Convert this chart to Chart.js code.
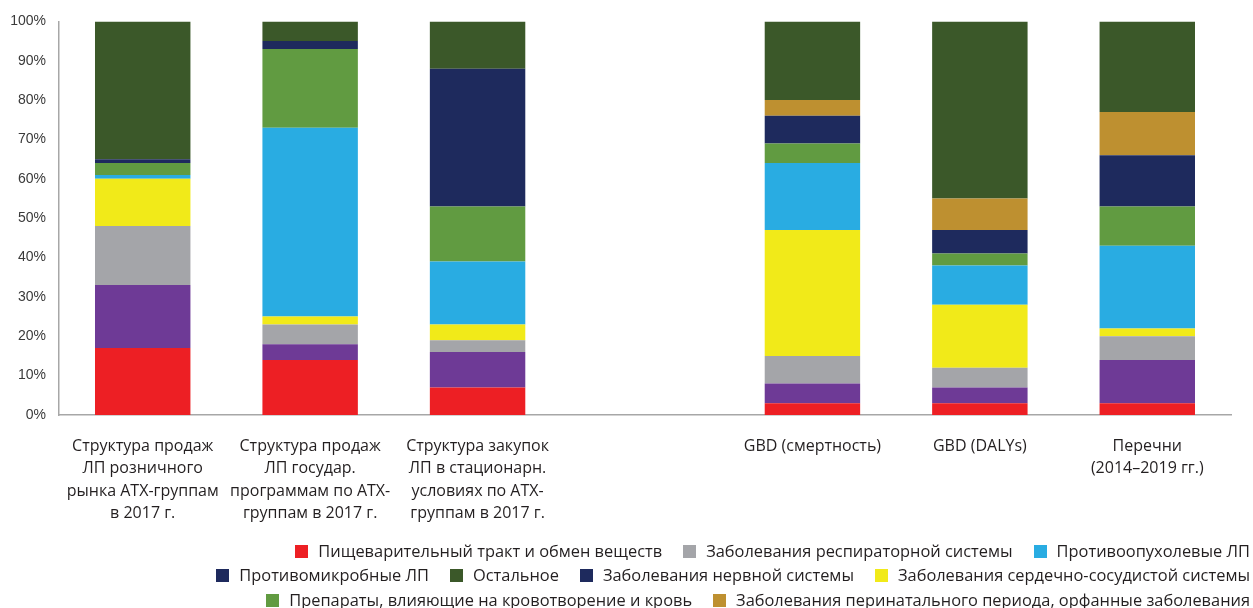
<!DOCTYPE html>
<html lang="ru">
<head>
<meta charset="utf-8">
<title>Структура продаж и закупок ЛП по терапевтическим группам</title>
<script src="https://cdn.jsdelivr.net/npm/chart.js@4.4.1/dist/chart.umd.min.js"></script>
<style>
  html, body { margin: 0; padding: 0; background: #fff; }
  #wrap { position: relative; width: 1253px; height: 608px; }
</style>
</head>
<body>
<div id="wrap"><canvas id="chart"></canvas></div>
<script>
// Categories (the empty one separates the sales/procurement bars from the burden-of-disease bars)
const categories = [
  ['Структура продаж', 'ЛП розничного', 'рынка АТХ-группам', 'в 2017 г.'],
  ['Структура продаж', 'ЛП государ.', 'программам по АТХ-', 'группам в 2017 г.'],
  ['Структура закупок', 'ЛП в стационарн.', 'условиях по АТХ-', 'группам в 2017 г.'],
  '',
  'GBD (смертность)',
  'GBD (DALYs)',
  ['Перечни', '(2014–2019 гг.)']
];

// Shares, %, listed bottom-to-top in the stack
const digestive     = [17, 14,  7, null,  3,  3,  3];
const antimicrobial = [16,  4,  9, null,  5,  4, 11];
const respiratory   = [15,  5,  3, null,  7,  5,  6];
const cardio        = [12,  2,  4, null, 32, 16,  2];
const oncology      = [ 1, 48, 16, null, 17, 10, 21];
const blood         = [ 3, 20, 14, null,  5,  3, 10];
const nervous       = [ 1,  2, 35, null,  7,  6, 13];
const perinatal     = [ 0,  0,  0, null,  4,  8, 11];
const other         = [35,  5, 12, null, 20, 45, 23];

const yTicks = [0, 10, 20, 30, 40, 50, 60, 70, 80, 90, 100];

const seriesNames = [
  'Пищеварительный тракт и обмен веществ',
  'Противомикробные ЛП',
  'Заболевания респираторной системы',
  'Заболевания сердечно-сосудистой системы',
  'Противоопухолевые ЛП',
  'Препараты, влияющие на кровотворение и кровь',
  'Заболевания нервной системы',
  'Заболевания перинатального периода, орфанные заболевания',
  'Остальное'
];
const seriesValues = [digestive, antimicrobial, respiratory, cardio, oncology, blood, nervous, perinatal, other];
const seriesColors = ['#ED1F24', '#6E3A96', '#A4A5A9', '#F1EA19', '#29ACE2', '#619B41', '#1E2A5D', '#BE9030', '#3B5829'];
const swatchColors = ['#ED1F24', '#1E2A5D', '#A4A5A9', '#F1EA19', '#29ACE2', '#619B41', '#1E2A5D', '#BE9030', '#3B5829'];

// Legend rows, right-aligned under the plot (indices into the series lists)
const legendRows = [[0, 2, 4], [1, 8, 6, 3], [5, 7]];

const TEXT = '#231F20';
const LABEL_FONT = "'Open Sans', 'Noto Sans', sans-serif";

const rowLegend = {
  id: 'rowLegend',
  afterDraw(chart) {
    const ctx = chart.ctx;
    const box = 13, boxGap = 10, itemGap = 21, right = chart.width - 3;
    const firstRow = 551, rowStep = 24.5;
    ctx.save();
    ctx.font = '16.4px ' + LABEL_FONT;
    ctx.textBaseline = 'middle';
    legendRows.forEach((row, r) => {
      const y = firstRow + r * rowStep;
      const items = row.map(i => ({ ds: chart.data.datasets[i], w: ctx.measureText(chart.data.datasets[i].label).width }));
      const total = items.reduce((s, it) => s + box + boxGap + it.w, 0) + itemGap * (items.length - 1);
      let x = right - total;
      items.forEach(it => {
        ctx.fillStyle = it.ds.swatch;
        ctx.fillRect(Math.round(x), Math.round(y - box / 2), box, box);
        x += box + boxGap;
        ctx.fillStyle = TEXT;
        ctx.fillText(it.ds.label, x, y + 1);
        x += it.w + itemGap;
      });
    });
    ctx.restore();
  }
};

new Chart(document.getElementById('chart'), {
  type: 'bar',
  data: {
    labels: categories,
    datasets: seriesNames.map((name, i) => ({
      label: name,
      data: seriesValues[i],
      backgroundColor: seriesColors[i],
      swatch: swatchColors[i],
      borderWidth: 0,
      categoryPercentage: 1,
      barPercentage: 0.57
    }))
  },
  options: {
    responsive: true,
    maintainAspectRatio: false,
    animation: false,
    layout: { padding: { left: 0, right: 22, top: 17, bottom: 0 } },
    plugins: {
      legend: { display: false },
      tooltip: { enabled: false }
    },
    scales: {
      x: {
        stacked: true,
        afterFit(axis) { axis.height = 193; },
        grid: { display: false, drawTicks: false },
        border: { display: true, color: '#A7A7A7', width: 1.5 },
        ticks: {
          color: TEXT,
          font: { family: LABEL_FONT, size: 16, lineHeight: 1.4 },
          padding: 20,
          maxRotation: 0,
          autoSkip: false
        }
      },
      y: {
        stacked: true,
        min: 0,
        max: 100,
        afterBuildTicks(axis) { axis.ticks = yTicks.map(v => ({ value: v })); },
        afterFit(axis) { axis.width = 59; },
        grid: { display: false, drawTicks: false },
        border: { display: true, color: '#A7A7A7', width: 1.5 },
        ticks: {
          color: '#3A3A3A',
          font: { family: "'Liberation Sans', Arial, sans-serif", size: 14 },
          padding: 13,
          callback: v => v + '%'
        }
      }
    }
  },
  plugins: [rowLegend]
});
</script>
</body>
</html>
